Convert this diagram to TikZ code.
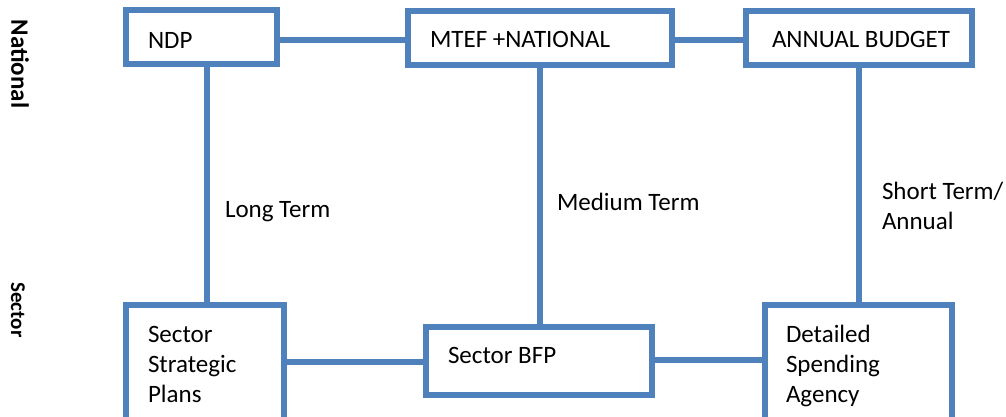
\documentclass[tikz,border=0pt]{standalone}
\usepackage{fontspec}
\setmainfont{Carlito}
\newfontfamily\sidefont{Carlito}
\definecolor{boxblue}{HTML}{4F81BD}
\tikzset{
  box/.style={draw=boxblue, line width=6bp, rectangle, inner sep=0pt, outer sep=0pt, fill=white},
  conn/.style={draw=boxblue, line width=6bp},
  txt/.style={anchor=base west, inner sep=0pt, outer sep=0pt, align=left, font=\fontsize{25bp}{30bp}\selectfont, text=black},
  side/.style={inner sep=0pt, rotate=-90, font=\sidefont\bfseries, text=black}
}
\begin{document}
\begin{tikzpicture}[x=1bp,y=-1bp]
\useasboundingbox (0,0) rectangle (1006,416);
\clip (0,0) rectangle (1006,416);
% coordinates for connector lines
\coordinate (ytop) at (0,40);
\coordinate (ybotl) at (0,362);
\coordinate (ybotr) at (0,360);
\coordinate (xl) at (207,0);
\coordinate (xm) at (540,0);
\coordinate (xr) at (859,0);
% boxes
\node[box, minimum width=151bp, minimum height=54bp] (ndp) at (201.5,37) {};
\node[box, minimum width=264bp, minimum height=54bp] (mtef) at (540,38) {};
\node[box, minimum width=226bp, minimum height=54bp] (annual) at (859,38) {};
\node[box, minimum width=158bp, minimum height=125bp] (ssp) at (205,367.5) {};
\node[box, minimum width=226bp, minimum height=68bp] (bfp) at (539,361) {};
\node[box, minimum width=187bp, minimum height=125bp] (dsa) at (858.5,367.5) {};
% connectors
\draw[conn] (ndp.east |- ytop) -- (mtef.west |- ytop);
\draw[conn] (mtef.east |- ytop) -- (annual.west |- ytop);
\draw[conn] (ssp.east |- ybotl) -- (bfp.west |- ybotl);
\draw[conn] (bfp.east |- ybotr) -- (dsa.west |- ybotr);
\draw[conn] (xl |- ndp.south) -- (xl |- ssp.north);
\draw[conn] (xm |- mtef.south) -- (xm |- bfp.north);
\draw[conn] (xr |- annual.south) -- (xr |- dsa.north);
% box texts (base anchor = baseline of last line)
\node[txt] (tndp) at (148,48) {NDP};
\node[txt] (tmtef) at (430,47) {MTEF +NATIONAL};
\node[txt] (tannual) at (772,47) {ANNUAL BUDGET};
\node[txt] (tssp) at (148,402) {Sector\\Strategic\\Plans};
\node[txt] (tbfp) at (448,363) {Sector BFP};
\node[txt] (tdsa) at (786,402) {Detailed\\Spending\\Agency};
% connector labels
\node[txt] (llong) at (225,217) {Long Term};
\node[txt] (lmed) at (557,210) {Medium Term};
\node[txt] (lshort) at (882,229) {Short Term/\\Annual};
% side labels
\node[side, font=\sidefont\bfseries\fontsize{25bp}{29bp}\selectfont] (snat) at (20,64) {National};
\node[side, font=\sidefont\bfseries\fontsize{21bp}{25bp}\selectfont] (ssec) at (18,310) {Sector};
\end{tikzpicture}
\end{document}
